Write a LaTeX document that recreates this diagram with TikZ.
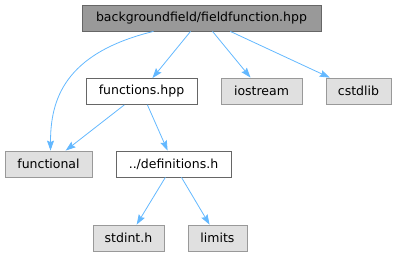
\documentclass[tikz,border=0pt]{standalone}
\usepackage{fontspec}
\setmainfont{DejaVu Sans}
\usepackage{xcolor}
\usetikzlibrary{arrows.meta,positioning}

\definecolor{edgeblue}{HTML}{63B8FF}
\definecolor{topfill}{HTML}{999999}
\definecolor{extfill}{HTML}{E0E0E0}

\begin{document}
\begin{tikzpicture}[
    x=1pt, y=1pt,
    every node/.style={font=\fontsize{12.5}{14}\selectfont},
    file/.style={draw=black!60, fill=white, line width=0.8pt, minimum height=26pt, inner xsep=2pt, inner ysep=0pt},
    topfile/.style={file, fill=topfill},
    extfile/.style={file, draw=topfill, fill=extfill},
    arr/.style={-{Stealth[length=10pt, width=7pt, inset=1.5pt, fill=edgeblue]}, draw=edgeblue, line width=0.8pt},
]
    \useasboundingbox (0,0) rectangle (397,-256);

    % Root
    \node[topfile, minimum width=239pt] (root) at (201.5,-18) {backgroundfield/fieldfunction.hpp};

    % Second row
    \node[file, minimum width=111pt] (funcs) at (141.5,-91.5) {functions.hpp};
    \node[extfile, minimum width=81pt] (iostream) at (261.5,-91) {iostream};
    \node[extfile, minimum width=65pt] (cstdlib) at (358.5,-91) {cstdlib};

    % Third row
    \node[extfile, minimum width=87pt] (functional) at (48.5,-164) {functional};
    \node[file, minimum width=115pt] (defs) at (173.5,-164) {../definitions.h};

    % Bottom row
    \node[extfile, minimum width=71pt] (stdint) at (128.5,-238) {stdint.h};
    \node[extfile, minimum width=59pt] (limits) at (217.5,-238) {limits};

    % Includes
    \draw[arr] ([xshift=-48pt]root.south) .. controls +(-90,-22) and +(0,50) .. ([xshift=2pt]functional.north);
    \draw[arr] (root) -- (funcs);
    \draw[arr] (root) -- (iostream);
    \draw[arr] (root) -- (cstdlib);
    \draw[arr] (funcs) -- (functional);
    \draw[arr] (funcs) -- (defs);
    \draw[arr] (defs) -- (stdint);
    \draw[arr] (defs) -- (limits);
\end{tikzpicture}
\end{document}
